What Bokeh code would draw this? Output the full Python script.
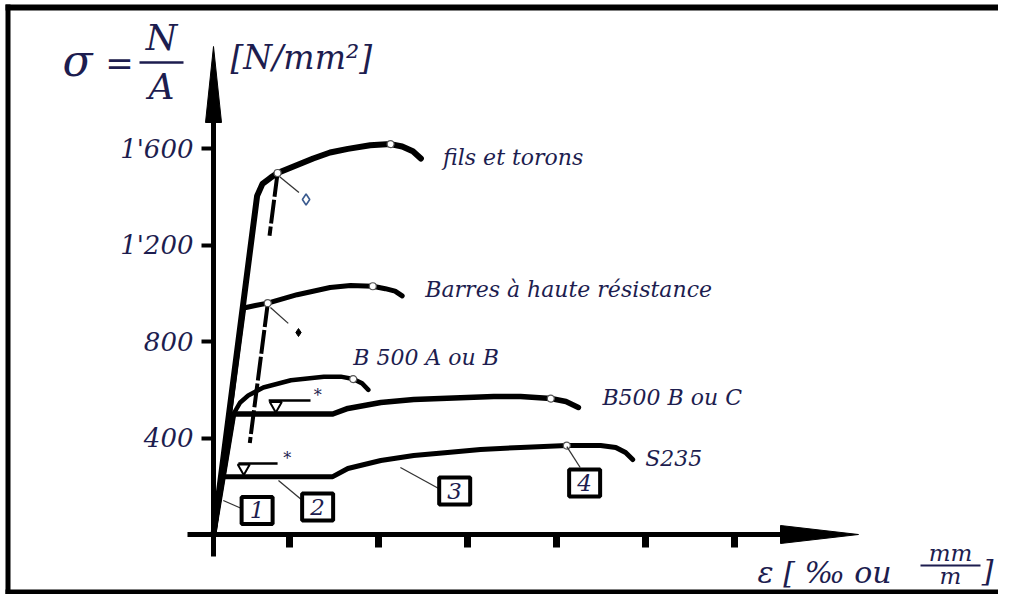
from bokeh.plotting import figure
from bokeh.models import LinearAxis, FixedTicker, Range1d
from bokeh.core.properties import value
from bokeh.embed import file_html
from bokeh.resources import INLINE

# ---------------- data (strain in permil, stress in N/mm2) ----------------
sig_ticks = [400, 800, 1200, 1600]
sig_labels = ["400", "800", "1'200", "1'600"]
eps_ticks = [8.5, 18.5, 28.5, 38.5, 48.5, 58.5]

fils_eps = [0, 4.9, 5.5, 6.4, 7.2, 9.2, 11.2, 13.1, 15.1, 17.6, 19.9, 21.2, 22.4, 23.3]
fils_sig = [0, 1405, 1455, 1480, 1500, 1530, 1560, 1585, 1600, 1615, 1620, 1610, 1590, 1560]

barres_eps = [0, 3.4, 4.7, 6.1, 9.4, 13.1, 15.4, 17.9, 19.3, 20.4, 21.2]
barres_sig = [0, 940, 950, 960, 995, 1025, 1033, 1030, 1020, 1010, 990]

b500a_eps = [0, 1.2, 2.25, 3.0, 3.9, 5.6, 8.7, 12.4, 14.3, 15.7, 16.7, 17.4]
b500a_sig = [0, 265, 500, 548, 577, 610, 640, 655, 655, 645, 627, 600]

b500bc_eps = [0, 2.25, 13.4, 15.1, 18.8, 22.5, 25.5, 31.5, 34.5, 37.9, 39.6, 41.0]
b500bc_sig = [0, 500, 500, 523, 548, 560, 564, 573, 573, 564, 552, 527]

s235_eps = [0, 1.0, 13.4, 15.1, 18.8, 22.5, 26.3, 30.0, 34.5, 39.7, 43.5, 45.2, 46.3, 47.1]
s235_sig = [0, 240, 240, 274, 307, 328, 340, 353, 361, 369, 369, 361, 340, 311]

# characteristic points (open circles)
mark_eps = [7.2, 19.9, 6.1, 17.9, 15.7, 37.9, 39.7]
mark_sig = [1500, 1620, 960, 1030, 645, 564, 369]

# 0.2 % offset unloading lines (start at proof point, end stress)
unl_eps0 = [7.2, 6.1]
unl_sig0 = [1500, 960]
unl_sig1 = [1240, 380]
E_slope = 287.0  # N/mm2 per permil (elastic slope of the drawing)

curve_names = ["fils et torons", "Barres à haute résistance", "B 500 A ou B", "B500 B ou C", "S235"]
name_eps = [25.8, 23.8, 15.7, 43.7, 48.5]
name_sig = [1564, 1017, 734, 568, 315]

box_labels = ["1", "2", "3", "4"]
box_eps = [4.9, 11.7, 27.1, 41.7]
box_sig = [100, 114, 180, 214]
box_from_eps = [1.1, 7.3, 21.0, 39.7]
box_from_sig = [141, 224, 278, 365]
box_to_eps = [3.15, 10.0, 25.3, 41.2]
box_to_sig = [108, 141, 191, 278]

# ---------------- layout helpers ----------------
W, H = 998, 594
OX, OY = 213, 534      # canvas px of the origin
SX, SY = 8.9, 0.241    # px per unit

def cx(px):            # canvas px -> strain
    return (px - OX) / SX

def cy(py):            # canvas px -> stress
    return (OY - py) / SY

TEXT = "#1d1d4f"
FONT = value("DejaVu Serif")

x0, x1 = -OX / SX, (W - OX) / SX
y0, y1 = -(H - OY) / SY, OY / SY

p = figure(width=W, height=H, output_backend="svg", toolbar_location=None,
           x_range=Range1d(x0, x1), y_range=Range1d(y0, y1),
           x_axis_type=None, y_axis_type=None, min_border=0, title=None,
           outline_line_color=None, background_fill_color="white",
           border_fill_color="white")

# frame of the picture (left, top, bottom)
p.quad(left=[cx(5), cx(5), cx(5)], right=[cx(10), x1, x1],
       bottom=[cy(594), cy(10), cy(594)], top=[cy(4), cy(4), cy(589)],
       fill_color="black", line_color=None)

# ---------------- axes ----------------
yax = LinearAxis(fixed_location=0, bounds=(cy(556), cy(118)),
                 ticker=FixedTicker(ticks=sig_ticks),
                 major_label_overrides={t: l for t, l in zip(sig_ticks, sig_labels)},
                 axis_line_width=5, axis_line_color="black",
                 major_tick_line_width=4, major_tick_out=12, major_tick_in=0,
                 minor_tick_line_color=None,
                 major_label_text_font="DejaVu Serif", major_label_text_font_style="italic",
                 major_label_text_font_size="26px", major_label_text_color=TEXT,
                 major_label_standoff=8)
p.add_layout(yax, "left")

xax = LinearAxis(fixed_location=0, bounds=(cx(187), cx(790)),
                 ticker=FixedTicker(ticks=eps_ticks),
                 axis_line_width=5, axis_line_color="black",
                 major_tick_line_width=7, major_tick_out=13, major_tick_in=0,
                 minor_tick_line_color=None, major_label_text_color=None)
p.add_layout(xax, "below")

# arrow heads
p.patch([cx(780), cx(858), cx(780)], [9 / SY, 0, -9 / SY], fill_color="black", line_color="black")
p.patch([-8 / SX, 0, 8 / SX], [cy(122), cy(46), cy(122)], fill_color="black", line_color="black")

# ---------------- curves ----------------
for e, s, w in [(fils_eps, fils_sig, 6), (barres_eps, barres_sig, 5),
                (b500a_eps, b500a_sig, 4.5), (b500bc_eps, b500bc_sig, 5.5),
                (s235_eps, s235_sig, 5)]:
    p.line(e, s, line_width=w, line_color="black", line_join="round", line_cap="round")

# unloading (offset) lines
unl_eps1 = [e0 - (s0 - s1) / E_slope for e0, s0, s1 in zip(unl_eps0, unl_sig0, unl_sig1)]
p.segment(unl_eps0, unl_sig0, unl_eps1, unl_sig1, line_width=4, line_color="black",
          line_dash="24 3")

# leaders from proof points to symbols
p.segment([7.4, 6.4], [1485, 942], [9.6, 8.4], [1419, 876], line_width=1.3, line_color="#333")
p.scatter([10.4], [1390], marker="diamond", size=11, fill_color="white",
          line_color="#3b5b8f", line_width=1.6)
p.scatter([9.55], [838], marker="diamond", size=8, fill_color="black", line_color="black")

p.scatter(mark_eps, mark_sig, size=7, fill_color="white", line_color="#555", line_width=1.2)

# yield-plateau symbols
p.segment([6.2, 2.8], [556, 295], [10.9, 7.2], [556, 295], line_width=2.5, line_color="black")
p.scatter([7.0, 3.4], [535, 276], marker="inverted_triangle", size=12,
          fill_color="white", line_color="black", line_width=2)
p.text([11.7, 8.3], [577, 315], text=["*", "*"], text_font=FONT, text_font_size="16px",
       text_color=TEXT, text_align="center", text_baseline="middle")

# numbered boxes
p.segment(box_from_eps, box_from_sig, box_to_eps, box_to_sig, line_width=1.3, line_color="#333")
p.rect(box_eps, box_sig, width=31, height=27, width_units="screen", height_units="screen",
       fill_color="white", line_color="black", line_width=4)
p.text(box_eps, box_sig, text=box_labels, text_font=FONT, text_font_style="italic",
       text_font_size="23px", text_color=TEXT, text_align="center", text_baseline="middle")

# curve names
p.text(name_eps, name_sig, text=curve_names, text_font=FONT, text_font_style="italic",
       text_font_size="22px", text_color=TEXT, text_align="left", text_baseline="middle")

# ---------------- axis titles ----------------
p.text([cx(77)], [cy(60)], text=["σ"], text_font=FONT, text_font_style="italic",
       text_font_size="44px", text_color=TEXT, text_align="center", text_baseline="middle")
p.text([cx(119)], [cy(62)], text=["="], text_font=FONT,
       text_font_size="34px", text_color=TEXT, text_align="center", text_baseline="middle")
p.text([cx(161), cx(161)], [cy(37), cy(86)], text=["N", "A"], text_font=FONT,
       text_font_style="italic", text_font_size="36px", text_color=TEXT,
       text_align="center", text_baseline="middle")
p.segment([cx(139)], [cy(62)], [cx(183)], [cy(62)], line_width=2.5, line_color=TEXT)
p.text([cx(230)], [cy(57)], text=["[N/mm²]"], text_font=FONT, text_font_style="italic",
       text_font_size="33px", text_color=TEXT, text_align="left", text_baseline="middle")

p.text([cx(757)], [cy(572)], text=["ε [ ‰ ou"], text_font=FONT, text_font_style="italic",
       text_font_size="30px", text_color=TEXT, text_align="left", text_baseline="middle")
p.segment([cx(920)], [cy(565)], [cx(980)], [cy(565)], line_width=2, line_color=TEXT)
p.text([cx(950)], [cy(552)], text=["mm"], text_font=FONT,
       text_font_style="italic", text_font_size="23px", text_color=TEXT,
       text_align="center", text_baseline="middle")
p.text([cx(950)], [cy(575)], text=["m"], text_font=FONT,
       text_font_style="italic", text_font_size="23px", text_color=TEXT,
       text_align="center", text_baseline="middle")
p.text([cx(987)], [cy(570)], text=["]"], text_font=FONT, text_font_style="italic",
       text_font_size="30px", text_color=TEXT, text_align="center", text_baseline="middle")

open("out.html", "w").write(file_html(p, INLINE))
